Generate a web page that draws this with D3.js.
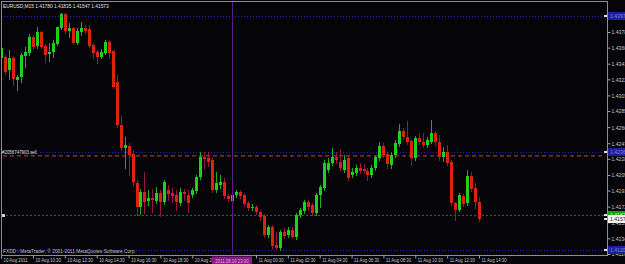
<!DOCTYPE html>
<html>
<head>
<meta charset="utf-8">
<script src="https://cdnjs.cloudflare.com/ajax/libs/d3/7.8.5/d3.min.js"></script>
<style>
body { margin: 0; background: #050408; }
svg { display: block; }
text { font-family: "Liberation Sans", Arial, sans-serif; }
</style>
</head>
<body>
<svg id="chart"></svg>
<script>
const title = 'EURUSD,M15';

const open = [1.43477,1.43489,1.43335,1.43477,1.43217,1.43253,1.43501,1.43536,1.43725,1.43619,
  1.43785,1.43619,1.43524,1.43548,1.43643,1.43832,1.43997,1.43796,1.43832,1.43655,
  1.43785,1.43832,1.43820,1.43631,1.43548,1.43489,1.43536,1.43666,1.43560,1.43193,
  1.42685,1.42413,1.42437,1.42342,1.41999,1.41715,1.41893,1.41786,1.41822,1.41786,
  1.41881,1.41774,1.41916,1.41881,1.41857,1.41763,1.41893,1.41857,1.41857,1.41904,
  1.42070,1.42307,1.42295,1.42271,1.41916,1.41976,1.42011,1.41845,1.41786,1.41857,
  1.41893,1.41857,1.41763,1.41704,1.41715,1.41656,1.41609,1.41384,1.41479,1.41266,
  1.41230,1.41420,1.41384,1.41443,1.41361,1.41621,1.41668,1.41774,1.41739,1.41644,
  1.41857,1.41940,1.42153,1.42236,1.42307,1.42247,1.42153,1.42295,1.42094,1.42117,
  1.42176,1.42165,1.42141,1.42094,1.42176,1.42295,1.42437,1.42342,1.42212,1.42330,
  1.42460,1.42614,1.42543,1.42496,1.42295,1.42531,1.42484,1.42448,1.42484,1.42590,
  1.42484,1.42307,1.42366,1.42247,1.41763,1.41680,1.41845,1.41763,1.42082,1.41940,
  1.41780];
const high = [1.43631,1.43513,1.43572,1.43501,1.43276,1.43536,1.43607,1.43761,1.43749,1.43844,
  1.43796,1.43643,1.43655,1.43690,1.43850,1.44009,1.44009,1.43891,1.43844,1.43832,
  1.43903,1.43867,1.43867,1.43655,1.43572,1.43584,1.43690,1.43690,1.43572,1.43276,
  1.42791,1.42543,1.42472,1.42389,1.42035,1.41928,1.42129,1.41916,1.41928,1.41952,
  1.41916,1.42035,1.41976,1.41940,1.41916,1.41940,1.41928,1.41916,1.41940,1.42094,
  1.42366,1.42366,1.42366,1.42295,1.42129,1.42094,1.42058,1.41869,1.41916,1.41916,
  1.41916,1.41881,1.41786,1.41751,1.41739,1.41680,1.41632,1.41502,1.41502,1.41420,
  1.41443,1.41467,1.41479,1.41479,1.41644,1.41704,1.41798,1.41798,1.41763,1.41881,
  1.41976,1.42271,1.42295,1.42413,1.42366,1.42389,1.42330,1.42318,1.42176,1.42212,
  1.42236,1.42224,1.42176,1.42212,1.42330,1.42484,1.42472,1.42366,1.42366,1.42508,
  1.42697,1.42649,1.42732,1.42519,1.42555,1.42590,1.42590,1.42543,1.42744,1.42614,
  1.42567,1.42425,1.42448,1.42271,1.41774,1.41881,1.41869,1.42153,1.42129,1.41999,
  1.41835];
const low = [1.43454,1.43288,1.43229,1.43158,1.43099,1.43193,1.43371,1.43513,1.43595,1.43595,
  1.43595,1.43430,1.43442,1.43489,1.43631,1.43820,1.43773,1.43725,1.43643,1.43643,
  1.43749,1.43773,1.43607,1.43477,1.43418,1.43477,1.43524,1.43489,1.43122,1.42661,
  1.42389,1.42176,1.42094,1.41976,1.41621,1.41632,1.41644,1.41739,1.41656,1.41763,
  1.41609,1.41751,1.41798,1.41774,1.41680,1.41739,1.41798,1.41656,1.41834,1.41881,
  1.42046,1.42176,1.42200,1.41893,1.41893,1.41940,1.41822,1.41786,1.41763,1.41834,
  1.41822,1.41727,1.41680,1.41680,1.41632,1.41562,1.41361,1.41361,1.41230,1.41219,
  1.41207,1.41349,1.41361,1.41349,1.41337,1.41597,1.41644,1.41680,1.41621,1.41621,
  1.41715,1.41916,1.42129,1.42212,1.42236,1.42153,1.42129,1.42035,1.42070,1.42094,
  1.42117,1.42117,1.42035,1.42070,1.42153,1.42271,1.42307,1.42176,1.42176,1.42307,
  1.42437,1.42519,1.42460,1.42212,1.42271,1.42460,1.42425,1.42425,1.42472,1.42448,
  1.42271,1.42259,1.42212,1.41739,1.41562,1.41668,1.41727,1.41739,1.41904,1.41704,
  1.41547];
const close = [1.43595,1.43312,1.43477,1.43229,1.43253,1.43513,1.43548,1.43725,1.43607,1.43785,
  1.43607,1.43513,1.43548,1.43655,1.43844,1.43997,1.43796,1.43832,1.43655,1.43796,
  1.43832,1.43796,1.43619,1.43536,1.43489,1.43548,1.43666,1.43536,1.43134,1.42685,
  1.42413,1.42448,1.42330,1.42011,1.41715,1.41893,1.41774,1.41822,1.41798,1.41881,
  1.41774,1.42011,1.41869,1.41845,1.41774,1.41893,1.41869,1.41763,1.41916,1.42070,
  1.42307,1.42283,1.42247,1.41916,1.41999,1.42011,1.41845,1.41810,1.41857,1.41893,
  1.41845,1.41751,1.41704,1.41715,1.41656,1.41597,1.41384,1.41479,1.41254,1.41230,
  1.41420,1.41372,1.41443,1.41361,1.41621,1.41680,1.41774,1.41715,1.41644,1.41857,
  1.41952,1.42236,1.42236,1.42307,1.42271,1.42176,1.42271,1.42058,1.42129,1.42176,
  1.42141,1.42141,1.42094,1.42176,1.42307,1.42437,1.42330,1.42224,1.42330,1.42472,
  1.42614,1.42543,1.42484,1.42295,1.42531,1.42484,1.42448,1.42508,1.42590,1.42484,
  1.42307,1.42366,1.42236,1.41763,1.41680,1.41857,1.41751,1.42082,1.41928,1.41774,
  1.41573];

const priceTicks = [1.43785,1.43600,1.43410,1.43225,1.43035,1.42850,1.42660,1.42470,
  1.42285,1.42095,1.41910,1.41720,1.41535,1.41345,1.41160];
const timeTickBars = [0,8,16,24,32,40,48,64,72,80,88,96,104,112,120];
const timeTickLabels = ['10 Aug 2011','10 Aug 10:30','10 Aug 12:30','10 Aug 14:30','10 Aug 16:30',
  '10 Aug 18:30','10 Aug 20:30','11 Aug 00:30','11 Aug 02:30','11 Aug 04:30','11 Aug 06:30',
  '11 Aug 08:30','11 Aug 10:30','11 Aug 12:30','11 Aug 14:30'];

const blueLevels = [1.43974, 1.41207];
const orderLevel = 1.42366;
const orderText = '#2056747903 sell';
const stopLevel = 1.42318;
const greenLevel = 1.41625;
const cursorBar = 58;
const cursorLabel = '2011.08.10 23:00';
const copyright = 'FXDD - MetaTrader, \u00a9 2001-2011 MetaQuotes Software Corp.';

const w = 625, h = 264;
const plot = {left: 1, top: 1, right: 607, bottom: 255};

const svg = d3.select('#chart').attr('width', w).attr('height', h);
svg.append('rect').attr('width', w).attr('height', h).attr('fill', '#050408');

const x = d3.scaleLinear().domain([0, 120]).range([1.1, 479]);
const y = d3.scaleLinear().domain([1.41160, 1.43785]).range([254, 32]);

// squeeze small text like the downscaled screenshot
function squeeze(sel, k) {
  sel.each(function() {
    const l = this.getComputedTextLength();
    this.setAttribute('textLength', l * k);
    this.setAttribute('lengthAdjust', 'spacingAndGlyphs');
  });
}

svg.append('clipPath').attr('id', 'clip')
  .append('rect')
    .attr('x', plot.left + 0.5).attr('y', plot.top + 0.5)
    .attr('width', plot.right - plot.left - 1).attr('height', plot.bottom - plot.top - 1);

const g = svg.append('g').attr('clip-path', 'url(#clip)');

// level lines
blueLevels.forEach(p => {
  g.append('line')
    .attr('x1', plot.left).attr('x2', plot.right)
    .attr('y1', Math.round(y(p)) + 0.5).attr('y2', Math.round(y(p)) + 0.5)
    .attr('stroke', '#2626b8').attr('stroke-dasharray', '1,2');
});
g.append('line')
  .attr('x1', 40).attr('x2', plot.right)
  .attr('y1', Math.round(y(orderLevel)) + 0.5).attr('y2', Math.round(y(orderLevel)) + 0.5)
  .attr('stroke', '#2626b8').attr('stroke-dasharray', '1,2');
g.append('line')
  .attr('x1', 3).attr('x2', 603)
  .attr('y1', Math.round(y(stopLevel)) - 0.5).attr('y2', Math.round(y(stopLevel)) - 0.5)
  .attr('stroke', '#1f5c1f').attr('stroke-dasharray', '4,3');
g.append('line')
  .attr('x1', 3).attr('x2', 603)
  .attr('y1', Math.round(y(stopLevel)) + 0.5).attr('y2', Math.round(y(stopLevel)) + 0.5)
  .attr('stroke', '#5a1818').attr('stroke-dasharray', '4,3');
g.append('line')
  .attr('x1', 6).attr('x2', plot.right)
  .attr('y1', Math.round(y(greenLevel)) + 0.5).attr('y2', Math.round(y(greenLevel)) + 0.5)
  .attr('stroke', '#1f701f').attr('stroke-dasharray', '2,2');
g.append('rect')
  .attr('x', 2).attr('y', Math.round(y(greenLevel)) - 1)
  .attr('width', 3).attr('height', 3).attr('fill', '#d0d0d0');

// candles
const bars = d3.range(open.length).map(i => ({
  i, o: open[i], h: high[i], l: low[i], c: close[i], up: close[i] >= open[i]
}));

g.selectAll('.wick').data(bars).enter().append('line')
  .attr('class', 'wick')
  .attr('x1', d => Math.round(x(d.i)) + 0.5).attr('x2', d => Math.round(x(d.i)) + 0.5)
  .attr('y1', d => Math.round(y(d.h))).attr('y2', d => Math.round(y(d.l)) + 1)
  .attr('stroke', d => d.up ? '#14b414' : '#9c1244');

g.selectAll('.body').data(bars).enter().append('rect')
  .attr('class', 'body')
  .attr('x', d => Math.round(x(d.i)) - 1)
  .attr('width', 3)
  .attr('y', d => Math.round(y(Math.max(d.o, d.c))))
  .attr('height', d => Math.max(1, Math.round(y(Math.min(d.o, d.c))) - Math.round(y(Math.max(d.o, d.c)))))
  .attr('fill', d => d.up ? '#1cd21c' : '#e2200e');

// cursor line
g.append('line')
  .attr('x1', Math.round(x(cursorBar)) + 0.5).attr('x2', Math.round(x(cursorBar)) + 0.5)
  .attr('y1', plot.top).attr('y2', plot.bottom)
  .attr('stroke', '#5e1684');

// frame
svg.append('rect')
  .attr('x', plot.left + 0.5).attr('y', plot.top + 0.5)
  .attr('width', plot.right - plot.left).attr('height', plot.bottom - plot.top)
  .attr('fill', 'none').attr('stroke', '#8e8e8e');

// price axis
const yAxisG = svg.append('g')
  .attr('transform', `translate(${plot.right + 0.5},0)`)
  .call(d3.axisRight(y).tickValues(priceTicks).tickSize(3).tickSizeOuter(0).tickPadding(1)
    .tickFormat(d3.format('.5f')));
yAxisG.select('.domain').remove();
yAxisG.selectAll('line').attr('stroke', '#a0a0a0');
yAxisG.selectAll('text')
  .attr('fill', '#c8c8c8').attr('font-size', '6px').attr('font-family', '"Liberation Sans", Arial')
  .call(squeeze, 0.85);

// price tags
function tag(p, fill, color) {
  const cy = Math.round(y(p));
  svg.append('rect').attr('x', 604).attr('y', cy - 1).attr('width', 3).attr('height', 2).attr('fill', '#e0e0e0');
  svg.append('rect').attr('x', 608).attr('y', cy - 4).attr('width', 17).attr('height', 8).attr('fill', fill);
  svg.append('text').attr('x', 610).attr('y', cy + 2.2)
    .attr('font-size', '6px').attr('fill', color)
    .text(d3.format('.5f')(p)).call(squeeze, 0.85);
}
tag(blueLevels[0], '#1e1ea0', '#8080d8');
tag(orderLevel, '#1e1ea0', '#8080d8');
tag(greenLevel, '#17a017', '#c8f0c8');
tag(close[close.length - 1], '#f4f4f4', '#202020');
tag(blueLevels[1], '#1e1ea0', '#8080d8');

// time axis
const xAxisG = svg.append('g')
  .attr('transform', `translate(0,${plot.bottom + 0.5})`)
  .call(d3.axisBottom(x).tickValues(timeTickBars).tickSize(3).tickSizeOuter(0)
    .tickFormat((d, i) => timeTickLabels[i]));
xAxisG.select('.domain').remove();
xAxisG.selectAll('line').attr('stroke', '#a0a0a0');
xAxisG.selectAll('text')
  .attr('text-anchor', 'start').attr('x', 2).attr('y', 2).attr('dy', '0.71em')
  .attr('fill', '#c8c8c8').attr('font-size', '6px').attr('font-family', '"Liberation Sans", Arial')
  .call(squeeze, 0.72);

// cursor time box
const cx = Math.round(x(cursorBar));
svg.append('rect').attr('x', cx - 20).attr('y', plot.bottom + 1.5).attr('width', 40).attr('height', 7.5)
  .attr('fill', '#8c1a8c');
svg.append('text').attr('x', cx).attr('y', plot.bottom + 7.5).attr('text-anchor', 'middle')
  .attr('font-size', '6px').attr('fill', '#e8a8e8')
  .text(cursorLabel).call(squeeze, 0.72);

// texts
svg.append('text').attr('x', 3).attr('y', 8)
  .attr('font-size', '6px').attr('fill', '#e4e4e4')
  .text(`${title} ${open[120].toFixed(5)} ${high[120].toFixed(5)} ${low[120].toFixed(5)} ${close[120].toFixed(5)}`)
  .call(squeeze, 0.8);
svg.append('text').attr('x', 2).attr('y', 154)
  .attr('font-size', '5.5px').attr('fill', '#e0e0f4')
  .text(orderText).call(squeeze, 0.8);
svg.append('text').attr('x', 3).attr('y', 253)
  .attr('font-size', '6px').attr('fill', '#c0c0c0')
  .text(copyright).call(squeeze, 0.8);
</script>
</body>
</html>
